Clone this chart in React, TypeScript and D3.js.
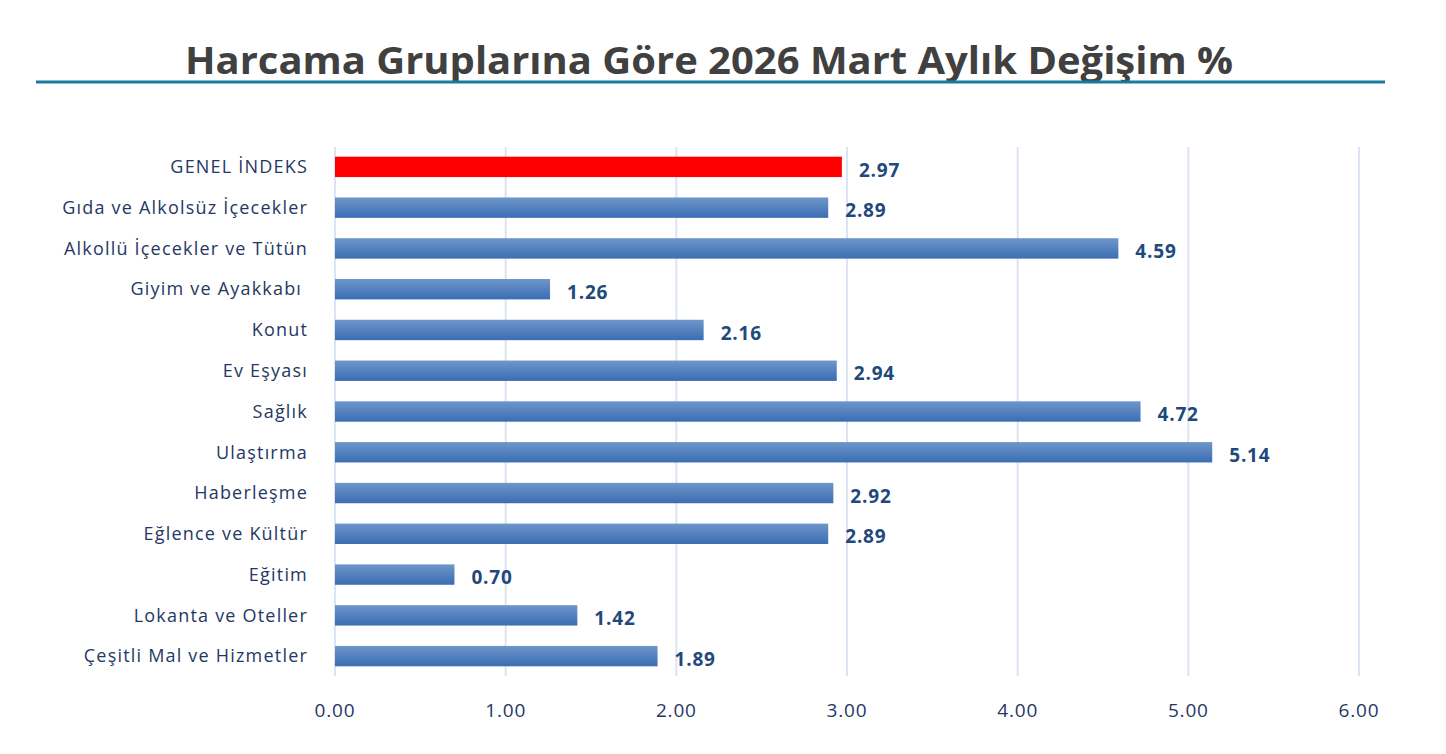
import React from "react";
import * as d3 from "d3";

const categories = [
  "GENEL İNDEKS",
  "Gıda ve Alkolsüz İçecekler",
  "Alkollü İçecekler ve Tütün",
  "Giyim ve Ayakkabı ",
  "Konut",
  "Ev Eşyası",
  "Sağlık",
  "Ulaştırma",
  "Haberleşme",
  "Eğlence ve Kültür",
  "Eğitim",
  "Lokanta ve Oteller",
  "Çeşitli Mal ve Hizmetler",
];
const values = [2.97, 2.89, 4.59, 1.26, 2.16, 2.94, 4.72, 5.14, 2.92, 2.89, 0.7, 1.42, 1.89];
const ticks = [0, 1, 2, 3, 4, 5, 6];
const title = "Harcama Gruplarına Göre 2026 Mart Aylık Değişim %";

export default function App() {
  const W = 1446, H = 754;
  const x = d3.scaleLinear().domain([0, 6]).range([335, 1359]);
  const y = d3.scaleBand().domain(categories).range([146.5, 676.5]).paddingInner(0.5).paddingOuter(0.25);
  const font = "'Open Sans', Lato, sans-serif";
  return (
    <svg width={W} height={H} style={{ position: "absolute", left: 0, top: 0 }} fontFamily={font}>
      <defs>
        <linearGradient id="bg" x1="0" y1="0" x2="0" y2="1">
          <stop offset="0%" stopColor="#6e96ca" />
          <stop offset="100%" stopColor="#3b6db3" />
        </linearGradient>
      </defs>
      <rect width={W} height={H} fill="#fff" />
      <text x={709} y={74} textAnchor="middle" fontSize={37} fontWeight="bold" fill="#404040" textLength={1048} lengthAdjust="spacingAndGlyphs">{title}</text>
      <line x1={36} x2={1385} y1={82} y2={82} stroke="#1a7a9e" strokeWidth={3} />
      {ticks.map((t) => (
        <g key={t}>
          <line x1={x(t)} x2={x(t)} y1={147} y2={676} stroke="#dae4f2" strokeWidth={2} />
          <text x={x(t)} y={717} textAnchor="middle" fontSize={19} letterSpacing={0.8} fill="#1f3864">{t.toFixed(2)}</text>
        </g>
      ))}
      {categories.map((c, i) => {
        const yy = y(c)!;
        const bh = y.bandwidth();
        return (
          <g key={c}>
            <rect x={x(0)} y={yy} width={x(values[i]) - x(0)} height={bh} fill={i === 0 ? "#ff0000" : "url(#bg)"} />
            <text x={308} y={yy + bh / 2} dy="0.35em" textAnchor="end" fontSize={18} letterSpacing={1.2} fill="#1f3864" style={{ whiteSpace: "pre" }}>{c}</text>
            <text x={x(values[i]) + 17} y={yy + bh / 2 + 3} dy="0.35em" fontSize={19} letterSpacing={0.8} fontWeight="bold" fill="#1f497d">{values[i].toFixed(2)}</text>
          </g>
        );
      })}
    </svg>
  );
}
